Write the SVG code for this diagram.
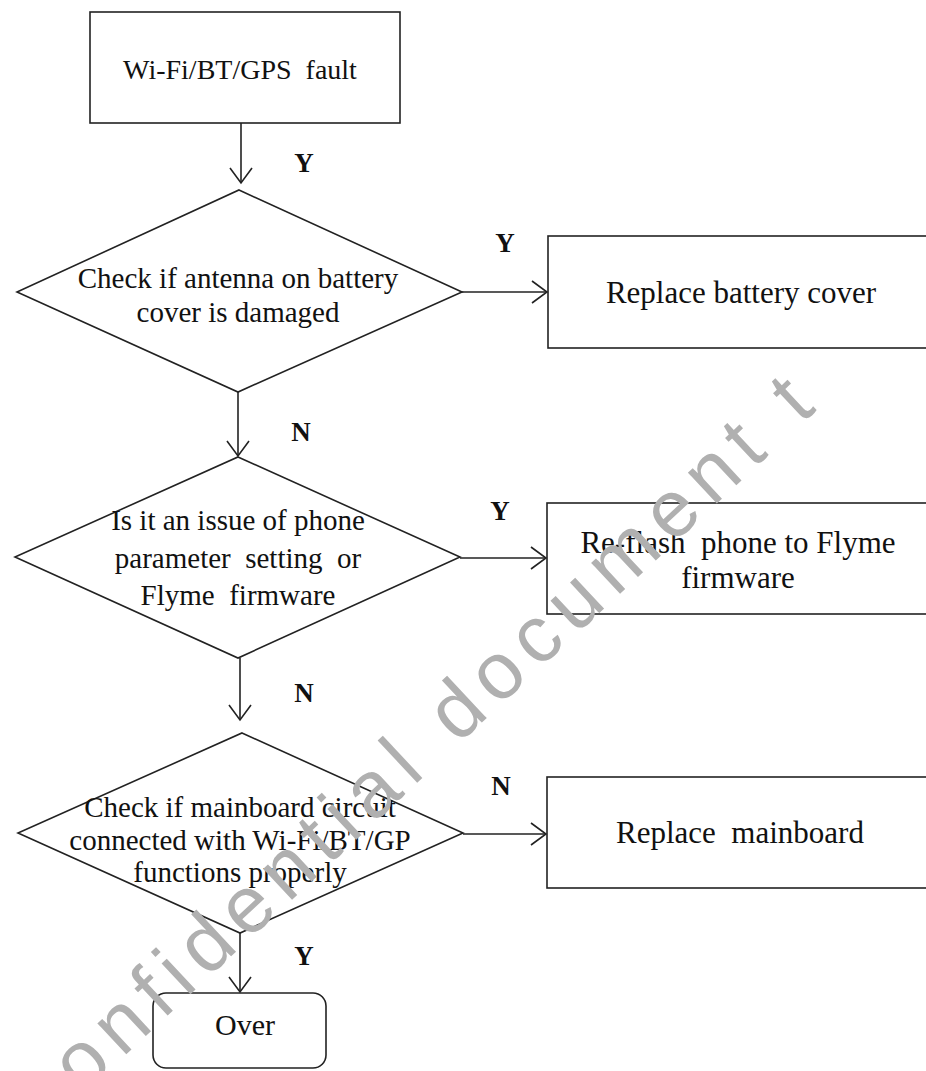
<svg xmlns="http://www.w3.org/2000/svg" width="926" height="1071" viewBox="0 0 926 1071">
<style>
.shape{fill:#fff;stroke:#222;stroke-width:1.6}
.line{fill:none;stroke:#222;stroke-width:1.6}
.t{font-family:"Liberation Serif","Times New Roman",serif;fill:#111;text-anchor:middle}
.lbl{font-family:"Liberation Serif","Times New Roman",serif;font-weight:bold;fill:#111;text-anchor:middle;font-size:27px}
.wm{font-family:"Liberation Sans",Arial,sans-serif;fill:#b0b0b0;font-size:80px;letter-spacing:10.6px}
</style>
<defs>
<marker id="arr" markerUnits="userSpaceOnUse" markerWidth="20" markerHeight="26" refX="16" refY="12" orient="auto">
<path d="M1,1 L16,12 L1,23" fill="none" stroke="#222" stroke-width="1.6"/>
</marker>
</defs>
<rect width="926" height="1071" fill="#fff"/>

<g id="start">
<rect class="shape" x="90" y="12" width="310" height="111"/>
<text class="t" x="240" y="79" font-size="28" xml:space="preserve">Wi-Fi/BT/GPS  fault</text>
</g>

<g id="check-antenna">
<polygon class="shape" points="239,190 462,292 238,392 17,292"/>
<text class="t" x="238" y="288" font-size="29">Check if antenna on battery</text>
<text class="t" x="238" y="322" font-size="29">cover is damaged</text>
</g>

<g id="replace-cover">
<rect class="shape" x="548" y="236" width="390" height="112"/>
<text class="t" x="741" y="303" font-size="31">Replace battery cover</text>
</g>

<g id="check-param">
<polygon class="shape" points="238,457 460,557 238,658 15,557"/>
<text class="t" x="238" y="530" font-size="29">Is it an issue of phone</text>
<text class="t" x="238" y="568" font-size="29" xml:space="preserve">parameter  setting  or</text>
<text class="t" x="238" y="605" font-size="29" xml:space="preserve">Flyme  firmware</text>
</g>

<g id="reflash">
<rect class="shape" x="547" y="503" width="390" height="111"/>
<text class="t" x="738" y="553" font-size="31" xml:space="preserve">Re-flash  phone to Flyme</text>
<text class="t" x="738" y="588" font-size="31">firmware</text>
</g>

<g id="check-mainboard">
<polygon class="shape" points="242,733 463,833 240,933 18,833"/>
<text class="t" x="240" y="817" font-size="29">Check if mainboard circuit</text>
<text class="t" x="240" y="850" font-size="29">connected with Wi-Fi/BT/GP</text>
<text class="t" x="240" y="882" font-size="29">functions properly</text>
</g>

<g id="replace-mainboard">
<rect class="shape" x="547" y="777" width="390" height="111"/>
<text class="t" x="740" y="843" font-size="31" xml:space="preserve">Replace  mainboard</text>
</g>

<g id="over">
<rect class="shape" x="153" y="993" width="173" height="75" rx="13"/>
<text class="t" x="245" y="1035" font-size="30">Over</text>
</g>

<g id="connectors">
<line class="line" x1="241" y1="123" x2="241" y2="183" marker-end="url(#arr)"/>
<text class="lbl" x="304" y="172">Y</text>
<line class="line" x1="462" y1="292" x2="547" y2="292" marker-end="url(#arr)"/>
<text class="lbl" x="505" y="252">Y</text>
<line class="line" x1="238" y1="392" x2="238" y2="456" marker-end="url(#arr)"/>
<text class="lbl" x="301" y="441">N</text>
<line class="line" x1="460" y1="558" x2="546" y2="558" marker-end="url(#arr)"/>
<text class="lbl" x="500" y="520">Y</text>
<line class="line" x1="240" y1="658" x2="240" y2="720" marker-end="url(#arr)"/>
<text class="lbl" x="304" y="702">N</text>
<line class="line" x1="463" y1="834" x2="546" y2="834" marker-end="url(#arr)"/>
<text class="lbl" x="501" y="795">N</text>
<line class="line" x1="240" y1="933" x2="240" y2="992" marker-end="url(#arr)"/>
<text class="lbl" x="304" y="965">Y</text>
</g>

<g id="watermark">
<text class="wm" transform="translate(45,1130) rotate(-43)">confidential document t</text>
</g>
</svg>
